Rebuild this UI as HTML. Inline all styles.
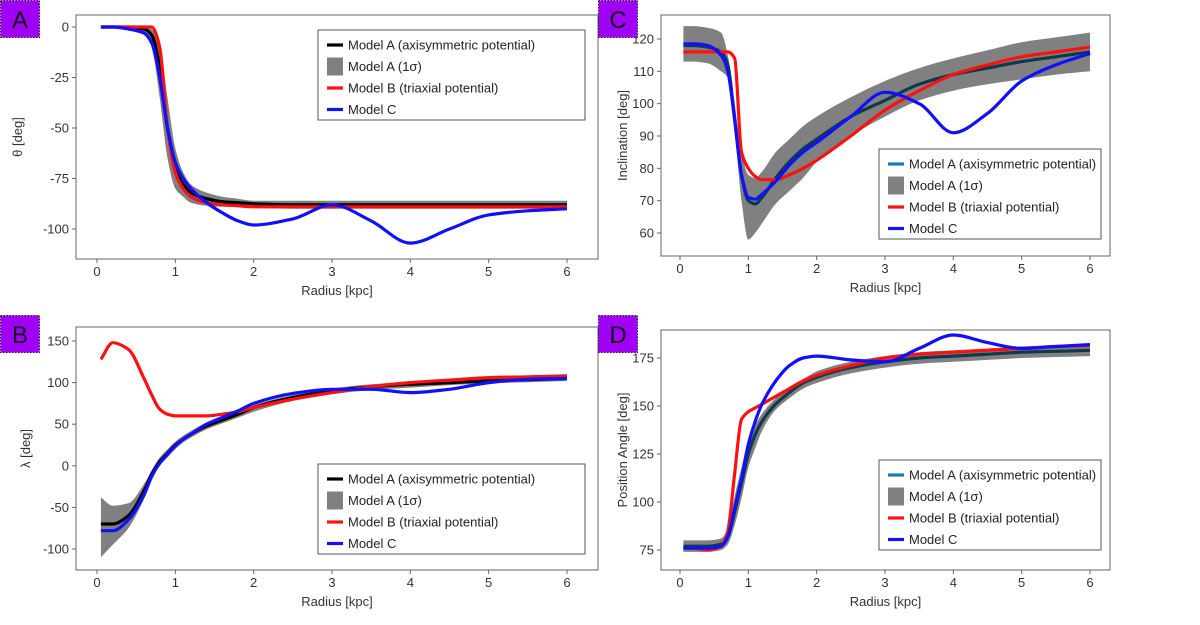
<!DOCTYPE html>
<html><head><meta charset="utf-8">
<style>
body{margin:0;background:#fff;width:1200px;height:620px;overflow:hidden;font-family:"Liberation Sans",sans-serif}
svg text{font-family:"Liberation Sans","DejaVu Sans",sans-serif}
</style></head>
<body>
<svg id="fig" width="1200" height="620"></svg>
<script>
const radius=[0.05,0.2,0.4,0.6,0.7,0.8,0.9,1.0,1.1,1.2,1.4,1.6,1.8,2.0,2.5,3,3.5,4,4.5,5,5.5,6];
// Panel A theta
const thetaA=[0,0,0,-1,-4,-20,-50,-70,-78,-82,-85,-86.5,-87,-87.5,-88,-88,-88,-88,-88,-88,-88,-88];
const thetaHi=[0,0,0,0,-1,-8,-35,-60,-72,-78,-82,-84,-85,-86,-86,-86,-86,-86,-86,-86,-86,-86];
const thetaLo=[0,0,0,-3,-10,-35,-65,-80,-84,-87,-88.5,-89,-89,-89.5,-90,-90,-90,-90,-90,-90,-90,-90];
const thetaB=[0,0,0,0,0,-10,-50,-72,-80,-84,-87,-88,-88.5,-89,-89,-89,-89,-89,-89,-89,-89,-89];
const thetaC=[0,0,-1,-3,-8,-25,-50,-67,-75,-80,-87,-92,-96,-98,-95,-88,-96,-107,-100,-93,-91,-90];
// Panel C inclination
const incA=[118,118,117.5,116,112,95,78,70,69,71,77,82,86,89,96,101,106,109,111,113,114.5,116];
const incHi=[124,124,123.5,122,115,100,85,78,77,79,85,89,93,96,102,107,111,114,116.5,119,120.5,122];
const incLo=[113,113,112.5,110,108,92,70,58,60,63,69,73,77,82,90,96,101,104,106,107.5,109,110];
const incB=[116,116,116,116,116,114,85,80,77.5,76.5,76.5,78,80,82.5,90,98,104,109,112,114.5,116,117.5];
const incC=[118.5,118.5,118,115,110,95,78,71,70.5,72,76,81,85,88,96,103.5,100,91,97,107,112,115.5];
// Panel B lambda
const lamA=[-70,-70,-60,-30,-10,5,15,25,32,38,48,55,62,70,82,90,95,98,100,102,103.5,105];
const lamHi=[-38,-48,-45,-22,-5,10,20,29,36,42,52,59,66,73,85,93,98,101,103,105,106.5,108];
const lamLo=[-110,-95,-75,-40,-18,0,10,20,28,34,44,51,58,65,78,86,91,94,97,99,100.5,102];
const lamB=[128,148,140,105,85,68,62,60,60,60,60,62,65,70,80,88,95,100,103,106,107,108];
const lamC=[-78,-78,-65,-35,-12,3,14,24,32,38,50,58,66,75,87,92,92,88,92,100,104,105];
// Panel D position angle
const paA=[77,77,77,78,82,95,110,125,135,142,151,157,162,165,170,173,175,176,177,178,178.5,179];
const paHi=[80,80,80,81,86,103,118,132,140,146,154,160,164,168,173,176,178,179,180,181,181.5,182];
const paLo=[74,74,74,75,78,88,102,118,128,137,148,154,159,162,167,170,172,173,174,175,175.5,176];
const paB=[76,76,75,77,85,115,143,147,149,151,155,159,163,166,171,175,177,178,179,180,181,181.5];
const paC=[76,76,76,77,82,97,112,130,142,151,163,171,175,176,174,173,180,187,183,180,181,182];

const xTicks=[0,1,2,3,4,5,6];
const NS="http://www.w3.org/2000/svg";
const svg=document.getElementById('fig');
function el(t,a,p){const e=document.createElementNS(NS,t);for(const k in a)e.setAttribute(k,a[k]);(p||svg).appendChild(e);return e;}
// monotone cubic (Fritsch-Carlson), pts sorted by x (asc or desc)
function mono(pts,cont){
  const n=pts.length,d=[],m=[];
  for(let i=0;i<n-1;i++)d.push((pts[i+1][1]-pts[i][1])/(pts[i+1][0]-pts[i][0]));
  m[0]=d[0];m[n-1]=d[n-2];
  for(let i=1;i<n-1;i++){ if(d[i-1]*d[i]<=0)m[i]=0; else { const h0=pts[i][0]-pts[i-1][0],h1=pts[i+1][0]-pts[i][0];
    const w1=2*h1+h0,w2=h1+2*h0; m[i]=(w1+w2)/(w1/d[i-1]+w2/d[i]); } }
  let s=(cont?" L":"M")+pts[0][0].toFixed(1)+","+pts[0][1].toFixed(1);
  for(let i=0;i<n-1;i++){const h=(pts[i+1][0]-pts[i][0])/3;
    s+=" C"+(pts[i][0]+h).toFixed(1)+","+(pts[i][1]+m[i]*h).toFixed(1)+" "+(pts[i+1][0]-h).toFixed(1)+","+(pts[i+1][1]-m[i+1]*h).toFixed(1)+" "+pts[i+1][0].toFixed(1)+","+pts[i+1][1].toFixed(1);}
  return s;}

function panel(cfg){
  const g=el('g',{});
  
  
  const xs=v=>cfg.x0+(v-0)*(cfg.x6-cfg.x0)/6;
  const ys=v=>cfg.ya+(v-cfg.va)*(cfg.yb-cfg.ya)/(cfg.vb-cfg.va);
  el('rect',{x:cfg.L,y:cfg.T,width:cfg.R-cfg.L,height:cfg.B-cfg.T,fill:'none',stroke:'#666','stroke-width':1},g);
  xTicks.forEach(t=>{const x=xs(t);el('line',{x1:x,x2:x,y1:cfg.B,y2:cfg.B+4,stroke:'#666'},g);
    const tx=el('text',{x:x,y:cfg.B+17,'font-size':13,'text-anchor':'middle',fill:'#333'},g);tx.textContent=t;
    });
  cfg.yTicks.forEach(t=>{const y=ys(t);el('line',{x1:cfg.L-4,x2:cfg.L,y1:y,y2:y,stroke:'#666'},g);
    const tx=el('text',{x:cfg.L-7,y:y+4.5,'font-size':13,'text-anchor':'end',fill:'#333'},g);tx.textContent=t;
    });
  const xt=el('text',{x:(cfg.L+cfg.R)/2,y:cfg.B+36,'font-size':13,'text-anchor':'middle',fill:'#333'},g);xt.textContent='Radius [kpc]';
  
  const yt=el('text',{x:0,y:0,'font-size':13,'text-anchor':'middle',fill:'#333',transform:`translate(${cfg.ylx},${(cfg.T+cfg.B)/2}) rotate(-90)`},g);yt.textContent=cfg.ylabel;
  
  const up=radius.map((r,i)=>[xs(r),ys(cfg.hi[i])]);
  const lo=radius.map((r,i)=>[xs(r),ys(cfg.lo[i])]).reverse();
  const band=el('path',{d:mono(up,false)+mono(lo,true)+" Z",fill:'#808080'},g);
  
  const series=[[cfg.a,cfg.aColor,'model-a-line'],[cfg.b,'#ff1010','model-b-line'],[cfg.c,'#1010ff','model-c-line']];
  series.forEach(s=>{const p=el('path',{d:mono(radius.map((r,i)=>[xs(r),ys(s[0][i])]),false),fill:'none',stroke:s[1],'stroke-width':3.2,'stroke-linejoin':'round'},g);
    });
  const lg=el('g',{},g);
  
  el('rect',{x:cfg.lx,y:cfg.ly,width:cfg.lw,height:90,fill:'#fff',stroke:'#555','stroke-width':1},lg);
  const items=[['Model A (axisymmetric potential)',cfg.aLeg],['Model A (1σ)','#808080'],['Model B (triaxial potential)','#ff1010'],['Model C','#1010ff']];
  items.forEach((it,i)=>{const y=cfg.ly+15+i*21.5;
    if(i===1) el('rect',{x:cfg.lx+9,y:y-9,width:16,height:18,fill:'#808080'},lg);
    else el('line',{x1:cfg.lx+9,x2:cfg.lx+25,y1:y,y2:y,stroke:it[1],'stroke-width':3.2},lg);
    const t=el('text',{x:cfg.lx+30,y:y+4.5,'font-size':13,fill:'#222'},lg);t.textContent=it[0];
    });
  const bg=el('g',{},g);
  
  el('rect',{x:cfg.bx+0.5,y:cfg.by+0.5,width:39,height:37,fill:'#a000f8',stroke:'#222','stroke-dasharray':'1.5,1.5'},bg);
  const bt=el('text',{x:cfg.bx+20,y:cfg.by+28,'font-size':24,'text-anchor':'middle',fill:'#111','font-family':'DejaVu Sans Condensed, DejaVu Sans, sans-serif'},bg);bt.textContent=cfg.letter;
}
panel({name:'panel-a',letter:'A',bx:0,by:0,L:76,R:598,T:15,B:259,x0:97,x6:567,va:0,ya:27,vb:-100,yb:229,yTicks:[0,-25,-50,-75,-100],ylabel:'θ [deg]',ylx:22,
  a:thetaA,hi:thetaHi,lo:thetaLo,b:thetaB,c:thetaC,aColor:'#000',aLeg:'#000',lx:318,ly:30,lw:267});
panel({name:'panel-c',letter:'C',bx:598,by:0,L:661,R:1110,T:15,B:256,x0:680,x6:1090,va:120,ya:39,vb:60,yb:233,yTicks:[60,70,80,90,100,110,120],ylabel:'Inclination [deg]',ylx:627,
  a:incA,hi:incHi,lo:incLo,b:incB,c:incC,aColor:'#0e3a4e',aLeg:'#1f77b4',lx:879,ly:149,lw:222});
panel({name:'panel-b',letter:'B',bx:0,by:315,L:76,R:598,T:327,B:570,x0:97,x6:567,va:150,ya:341,vb:-100,yb:549,yTicks:[-100,-50,0,50,100,150],ylabel:'λ [deg]',ylx:30,
  a:lamA,hi:lamHi,lo:lamLo,b:lamB,c:lamC,aColor:'#000',aLeg:'#000',lx:318,ly:464,lw:267});
panel({name:'panel-d',letter:'D',bx:598,by:315,L:661,R:1110,T:330,B:570,x0:680,x6:1090,va:175,ya:358,vb:75,yb:550,yTicks:[75,100,125,150,175],ylabel:'Position Angle [deg]',ylx:627,
  a:paA,hi:paHi,lo:paLo,b:paB,c:paC,aColor:'#0e3a4e',aLeg:'#1f77b4',lx:879,ly:460,lw:222});
</script>
</body></html>
